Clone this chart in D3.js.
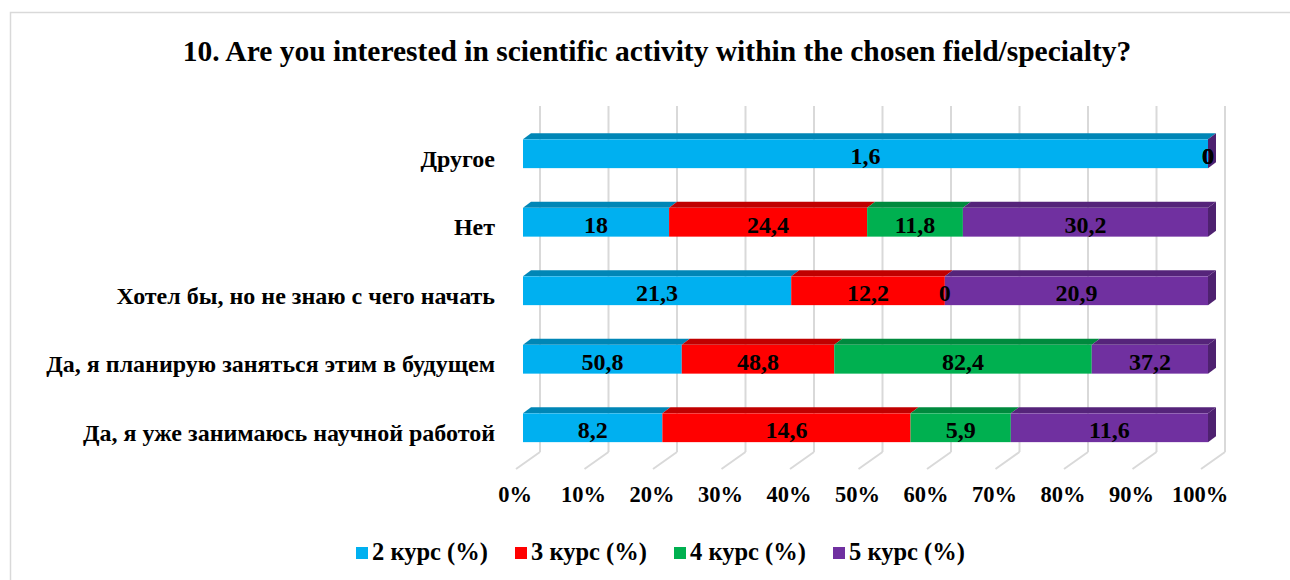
<!DOCTYPE html>
<html>
<head>
<meta charset="utf-8">
<script src="https://cdn.jsdelivr.net/npm/d3@7"></script>
<style>
  body { margin: 0; background: #fff; }
  svg text { font-family: "Liberation Serif", "Times New Roman", serif; font-weight: bold; fill: #000; }
</style>
</head>
<body>
<div id="chart"></div>
<script>
// categories top -> bottom
var categories = [
  "Другое",
  "Нет",
  "Хотел бы, но не знаю с чего начать",
  "Да, я планирую заняться этим в будущем",
  "Да, я уже занимаюсь научной работой"
];
var seriesNames = ["2 курс (%)", "3 курс (%)", "4 курс (%)", "5 курс (%)"];
var s2 = [1.6, 18, 21.3, 50.8, 8.2];
var s3 = [0, 24.4, 12.2, 48.8, 14.6];
var s4 = [0, 11.8, 0, 82.4, 5.9];
var s5 = [0, 30.2, 20.9, 37.2, 11.6];
var tickValues = [0, 0.1, 0.2, 0.3, 0.4, 0.5, 0.6, 0.7, 0.8, 0.9, 1];

var colors = ["#00B0F0", "#FF0000", "#00B050", "#7030A0"];
var topColors = ["#0086B6", "#C00000", "#008A3E", "#55247A"];
var sideColors = ["#007FAD", "#B00000", "#007F39", "#4E2170"];

var width = 1290, height = 580;
var depthX = 8, depthY = 6;      // bar 3d depth
var wallDX = 17, floorDX = 7, floorDY = 17; // back wall / floor offsets
var wallTop = 106, wallBottom = 452;

var svg = d3.select('#chart').append('svg')
  .attr('width', width)
  .attr('height', height);

// outer border
svg.append('path')
  .attr('d', 'M10.5,' + height + 'V12.5H' + width)
  .attr('fill', 'none')
  .attr('stroke', '#D9D9D9')
  .attr('stroke-width', 1.5);

svg.append('text')
  .attr('x', 657)
  .attr('y', 61)
  .attr('text-anchor', 'middle')
  .style('font-size', '29.5px')
  .text('10. Are you interested in scientific activity within the chosen field/specialty?');

var x = d3.scaleLinear().domain([0, 1]).range([523, 1208]);
var y = d3.scaleBand().domain(categories).range([119.5, 462])
  .paddingInner(0.58).paddingOuter(0.29);

// gridlines on back wall + floor
var grid = svg.append('g');
tickValues.forEach(function(t){
  var xb = x(t) + wallDX;
  grid.append('line')
    .attr('x1', xb).attr('x2', xb)
    .attr('y1', wallTop).attr('y2', wallBottom)
    .attr('stroke', '#D9D9D9').attr('stroke-width', 2);
  grid.append('line')
    .attr('x1', xb).attr('y1', wallBottom)
    .attr('x2', x(t) - floorDX).attr('y2', wallBottom + floorDY)
    .attr('stroke', '#D9D9D9').attr('stroke-width', 2);
});

// tick labels
svg.append('g').selectAll('text')
  .data(tickValues)
  .enter().append('text')
  .attr('x', function(d){ return x(d) - 8; })
  .attr('y', 502)
  .attr('text-anchor', 'middle')
  .style('font-size', '22.5px')
  .text(function(d){ return Math.round(d * 100) + '%'; });

// stack data
var series = [s2, s3, s4, s5];
var rows = categories.map(function(c, i){
  var total = series.reduce(function(a, s){ return a + s[i]; }, 0);
  var acc = 0;
  return series.map(function(s, k){
    var seg = { cat: c, k: k, value: s[i], x0: acc / total };
    acc += s[i];
    seg.x1 = acc / total;
    return seg;
  });
});

// category labels
svg.append('g').selectAll('text')
  .data(categories)
  .enter().append('text')
  .attr('x', 495)
  .attr('y', function(d){ return y(d) + y.bandwidth() / 2 + 13; })
  .attr('text-anchor', 'end')
  .style('font-size', '24px')
  .text(function(d){ return d; });

var fmt = function(v){ return String(v).replace('.', ','); };

rows.forEach(function(row){
  var g = svg.append('g');
  var y0 = y(row[0].cat), y1 = y0 + y.bandwidth();
  row.forEach(function(d){
    var a = x(d.x0), b = x(d.x1);
    if (b - a > 0) {
      g.append('path')
        .attr('d', 'M' + a + ',' + y0 + 'L' + (a + depthX) + ',' + (y0 - depthY) +
          'L' + (b + depthX) + ',' + (y0 - depthY) + 'L' + b + ',' + y0 + 'Z')
        .attr('fill', topColors[d.k]);
      g.append('rect')
        .attr('x', a).attr('y', y0)
        .attr('width', b - a).attr('height', y1 - y0)
        .attr('fill', colors[d.k]);
    }
  });
  // right end face, colored by the last series
  var last = row[row.length - 1];
  var xe = x(1);
  g.append('path')
    .attr('d', 'M' + xe + ',' + y0 + 'L' + (xe + depthX) + ',' + (y0 - depthY) +
      'L' + (xe + depthX) + ',' + (y1 - depthY) + 'L' + xe + ',' + y1 + 'Z')
    .attr('fill', sideColors[last.k]);
  row.forEach(function(d){
    g.append('text')
      .attr('x', (x(d.x0) + x(d.x1)) / 2)
      .attr('y', (y0 + y1) / 2 + 10.5)
      .attr('text-anchor', 'middle')
      .style('font-size', '24px')
      .text(fmt(d.value));
  });
});

// legend
var legend = svg.append('g').selectAll('g')
  .data(seriesNames)
  .enter().append('g')
  .attr('transform', function(d, i){ return 'translate(' + (356 + i * 159) + ',547)'; });
legend.append('rect')
  .attr('width', 12).attr('height', 12)
  .attr('fill', function(d, i){ return colors[i]; });
legend.append('text')
  .attr('x', 16).attr('y', 13)
  .style('font-size', '24.5px')
  .text(function(d){ return d; });
</script>
</body>
</html>
